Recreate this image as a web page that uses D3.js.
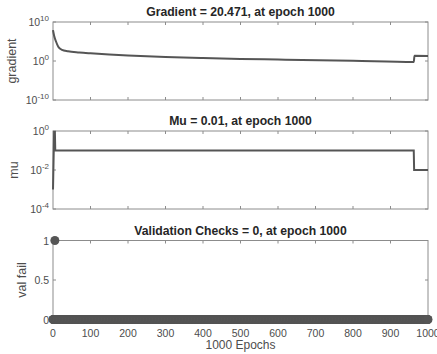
<html>
<head>
  <meta charset="UTF-8">
  <title>Training state</title>
  <script src="https://d3js.org/d3.v7.min.js"></script>
  <style>
    body { margin: 0; background: white; }
    text { font-family: "Liberation Sans", Arial, sans-serif; }
  </style>
</head>
<body>
<svg id="chart"></svg>
<script>
  // values
  let gradientEpochs = [0, 3, 8, 14, 24, 40, 70, 100, 150, 200, 300, 400, 500, 600, 800, 962, 964, 1000];
  let gradientValues = [8e7, 3e6, 1e5, 4700, 700, 320, 160, 95, 45, 25, 10, 5.5, 3.5, 2.4, 1.1, 0.55, 22, 20.471];

  let muEpochs = [0, 1, 2, 3, 4, 5, 6, 962, 963, 1000];
  let muValues = [0.001, 0.01, 0.1, 1, 0.1, 1, 0.1, 0.1, 0.01, 0.01];

  // validation fail stays at 0 the whole run, one mark at 1 near the start
  let valFailRuns = [{ from: 0, to: 1000, value: 0 }];
  let valFailSpikes = [{ epoch: 5, value: 1 }];

  let xTicks = [0, 100, 200, 300, 400, 500, 600, 700, 800, 900, 1000];

  let width = 437;
  let height = 354;
  let left = 53, right = 428;
  let lineColor = "#555555";
  let axisColor = "#8c8c8c";

  let svg = d3.select("#chart")
              .attr("width", width)
              .attr("height", height);

  let x = d3.scaleLinear().domain([0, 1000]).range([left, right]);

  function supLabel(sel, exp) {
    sel.text("10");
    sel.append("tspan")
       .attr("dy", -5)
       .attr("font-size", 8)
       .text(exp);
  }

  function panel(top, bottom, y, yTicks, tickFormat, title, ylabel, showX) {
    let g = svg.append("g");

    g.append("rect")
     .attr("x", left).attr("y", top)
     .attr("width", right - left).attr("height", bottom - top)
     .attr("fill", "white")
     .attr("stroke", axisColor)
     .attr("stroke-width", 1);

    // x ticks, inward on both edges
    g.selectAll(".xt").data(xTicks.slice(1, -1)).join("line")
     .attr("x1", d => x(d)).attr("x2", d => x(d))
     .attr("y1", bottom).attr("y2", bottom - 3)
     .attr("stroke", axisColor);
    g.selectAll(".xtt").data(xTicks.slice(1, -1)).join("line")
     .attr("x1", d => x(d)).attr("x2", d => x(d))
     .attr("y1", top).attr("y2", top + 3)
     .attr("stroke", axisColor);

    // y ticks, inward on both edges
    g.selectAll(".yt").data(yTicks).join("line")
     .attr("x1", left).attr("x2", left + 3)
     .attr("y1", d => y(d)).attr("y2", d => y(d))
     .attr("stroke", axisColor);
    g.selectAll(".ytr").data(yTicks).join("line")
     .attr("x1", right).attr("x2", right - 3)
     .attr("y1", d => y(d)).attr("y2", d => y(d))
     .attr("stroke", axisColor);

    g.selectAll(".yl").data(yTicks).join("text")
     .attr("x", left - 4)
     .attr("y", d => y(d) + 4)
     .attr("text-anchor", "end")
     .attr("font-size", 10.5)
     .attr("fill", "#4d4d4d")
     .each(function(d) { tickFormat(d3.select(this), d); });

    if (showX) {
      g.selectAll(".xl").data(xTicks).join("text")
       .attr("x", d => x(d))
       .attr("y", bottom + 17)
       .attr("text-anchor", "middle")
       .attr("font-size", 10.5)
       .attr("fill", "#4d4d4d")
       .text(d => d);
    }

    g.append("text")
     .attr("x", (left + right) / 2)
     .attr("y", top - 6)
     .attr("text-anchor", "middle")
     .attr("font-size", 12.2)
     .attr("font-weight", "bold")
     .attr("fill", "#262626")
     .text(title);

    g.append("text")
     .attr("transform", `translate(${ylabel.x},${(top + bottom) / 2}) rotate(-90)`)
     .attr("text-anchor", "middle")
     .attr("font-size", 12.5)
     .attr("fill", "#4d4d4d")
     .text(ylabel.text);

    return g;
  }

  // gradient panel
  let yGrad = d3.scaleLog().domain([1e-10, 1e10]).range([100, 22]);
  panel(22, 100, yGrad, [1e-10, 1, 1e10],
        (s, d) => supLabel(s, Math.round(Math.log10(d))),
        "Gradient = 20.471, at epoch 1000", { x: 16, text: "gradient" }, false);
  svg.append("path")
     .datum(gradientEpochs.map((e, i) => [e, gradientValues[i]]))
     .attr("fill", "none")
     .attr("stroke", lineColor)
     .attr("stroke-width", 2)
     .attr("d", d3.line().curve(d3.curveMonotoneX).x(d => x(d[0])).y(d => yGrad(d[1])));

  // mu panel
  let yMu = d3.scaleLog().domain([1e-4, 1]).range([209, 131]);
  panel(131, 209, yMu, [1e-4, 1e-2, 1],
        (s, d) => supLabel(s, Math.round(Math.log10(d))),
        "Mu = 0.01, at epoch 1000", { x: 18, text: "mu" }, false);
  svg.append("path")
     .datum(muEpochs.map((e, i) => [e, muValues[i]]))
     .attr("fill", "none")
     .attr("stroke", lineColor)
     .attr("stroke-width", 2)
     .attr("d", d3.line().x(d => x(d[0])).y(d => yMu(d[1])));

  // val fail panel
  let yVal = d3.scaleLinear().domain([0, 1]).range([319.5, 240.5]);
  panel(240.5, 319.5, yVal, [0, 0.5, 1],
        (s, d) => s.text(d),
        "Validation Checks = 0, at epoch 1000", { x: 26, text: "val fail" }, true);

  let valPoints = [];
  valFailRuns.forEach(r => {
    d3.range(r.from, r.to + 1).forEach(e => valPoints.push({ epoch: e, value: r.value }));
  });
  valFailSpikes.forEach(s => valPoints.push(s));

  svg.append("g").selectAll("circle").data(valPoints).join("circle")
     .attr("cx", d => x(d.epoch))
     .attr("cy", d => yVal(d.value))
     .attr("r", 4.5)
     .attr("fill", lineColor);

  svg.append("text")
     .attr("x", (left + right) / 2)
     .attr("y", 349)
     .attr("text-anchor", "middle")
     .attr("font-size", 12)
     .attr("fill", "#4d4d4d")
     .text("1000 Epochs");
</script>
</body>
</html>
